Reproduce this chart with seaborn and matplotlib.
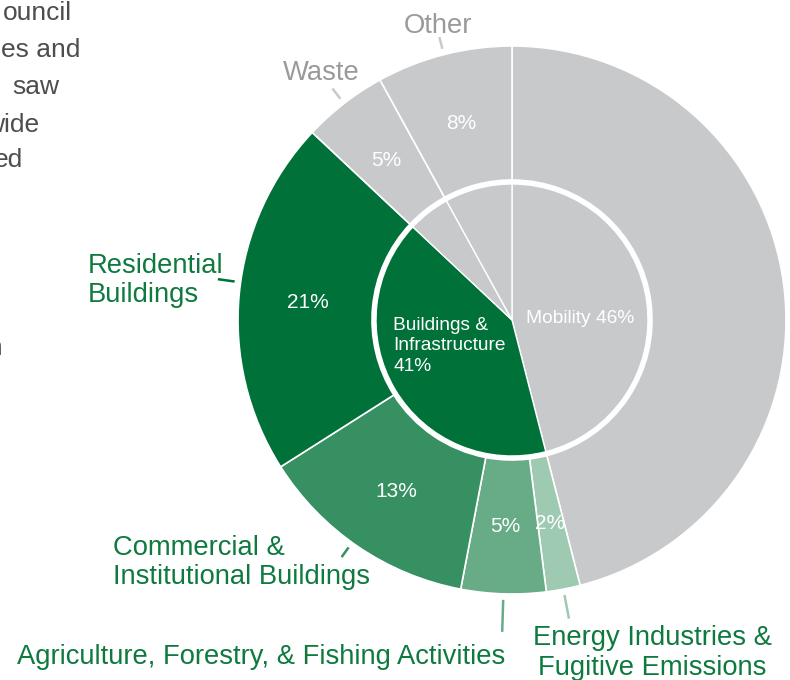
import numpy as np
import matplotlib
matplotlib.use('Agg')
import matplotlib.pyplot as plt
import seaborn as sns

# Outer ring: sub-sectors, clockwise from 12 o'clock
outer_names = ['Mobility', 'Energy Industries &\nFugitive Emissions',
               'Agriculture, Forestry, & Fishing Activities',
               'Commercial &\nInstitutional Buildings', 'Residential\nBuildings',
               'Waste', 'Other']
outer_values = [46, 2, 5, 13, 21, 5, 8]
outer_pct_labels = ['', '2%', '5%', '13%', '21%', '5%', '8%']

# Inner pie: main sectors
inner_names = ['Mobility', 'Buildings &\nInfrastructure', 'Waste', 'Other']
inner_values = [46, 41, 5, 8]

# cropped paragraph text on the left edge
side_text = ['ouncil', 'es and', 'saw', 'wide', 'ed', 'in']

GREY = '#C8C9CB'
outer_colors = [GREY, '#9DCAB0', '#67AB87', '#369061', '#007139', GREY, GREY]
inner_colors = [GREY, '#007139', GREY, GREY]
label_green = '#0E7A3F'
label_grey = '#9A9A9A'

sns.set_theme(style='white')
plt.rcParams['font.family'] = ['Liberation Sans', 'DejaVu Sans']

W, H = 790, 680
fig = plt.figure(figsize=(W / 100, H / 100), dpi=100)
ax = fig.add_axes([0, 0, 1, 1])

cx, cy = 512, H - 320
R_out, R_hole, R_in = 274, 140, 136

wedges, _ = ax.pie(outer_values, radius=R_out, center=(cx, cy), startangle=90,
                   counterclock=False, colors=outer_colors,
                   wedgeprops=dict(width=R_out - R_hole, edgecolor='white', linewidth=1.2))
inner_wedges, _ = ax.pie(inner_values, radius=R_in, center=(cx, cy), startangle=90,
                         counterclock=False, colors=inner_colors,
                         wedgeprops=dict(edgecolor='white', linewidth=1.0))

ax.set_xlim(0, W)
ax.set_ylim(0, H)
ax.set_aspect('equal')
ax.axis('off')


def polar(theta_deg, r):
    t = np.deg2rad(theta_deg)
    return cx + r * np.cos(t), cy + r * np.sin(t)


# percentages inside the outer ring and leader lines
leader_len = [0, 24, 32, 12, 17, 13, 12]
leader_shift = [0, 0, 0, -1.5, -2.5, 0, 0]  # small nudges, degrees
for w, lab, col, ll, sh in zip(wedges, outer_pct_labels, outer_colors, leader_len, leader_shift):
    mid = (w.theta1 + w.theta2) / 2
    if lab:
        x, y = polar(mid, 205)
        ax.text(x, y - 2, lab, color='white', fontsize=15, ha='center', va='center')
    if ll:
        x0, y0 = polar(mid + sh, 280)
        x1, y1 = polar(mid + sh, 280 + ll)
        ax.plot([x0, x1], [y0, y1], color=col, lw=1.8, solid_capstyle='butt')

# inner labels
ax.text(580, H - 323, 'Mobility 46%', color='white', fontsize=13.8, ha='center', va='baseline')
ax.text(393, H - 371, 'Buildings &\nInfrastructure\n41%', color='white', fontsize=13.8,
        ha='left', va='baseline', linespacing=1.28)

# outer category labels (multi-line: baseline of last line)
fs = 19.7
ax.text(88, H - 302, outer_names[4], color=label_green, fontsize=fs, ha='left',
        va='baseline', linespacing=1.15)
ax.text(113, H - 584, outer_names[3], color=label_green, fontsize=fs, ha='left',
        va='baseline', linespacing=1.15)
ax.text(17, H - 664, outer_names[2], color=label_green, fontsize=fs, ha='left', va='baseline')
ax.text(652, H - 675, outer_names[1], color=label_green, fontsize=fs, ha='center',
        va='baseline', linespacing=1.2)
ax.text(321, H - 80, outer_names[5], color=label_grey, fontsize=fs, ha='center', va='baseline')
ax.text(438, H - 33, outer_names[6], color=label_grey, fontsize=fs, ha='center', va='baseline')

# clipped body text on the left
side_right = [72, 80, 59, 39, 23, 3]
side_base = [20, 57, 94, 132, 167, 355]
for t, xr, yb in zip(side_text, side_right, side_base):
    ax.text(xr, H - yb, t, color='#4D4D4F', fontsize=19, ha='right', va='baseline')

fig.savefig('out.png', dpi=100, facecolor='white')
